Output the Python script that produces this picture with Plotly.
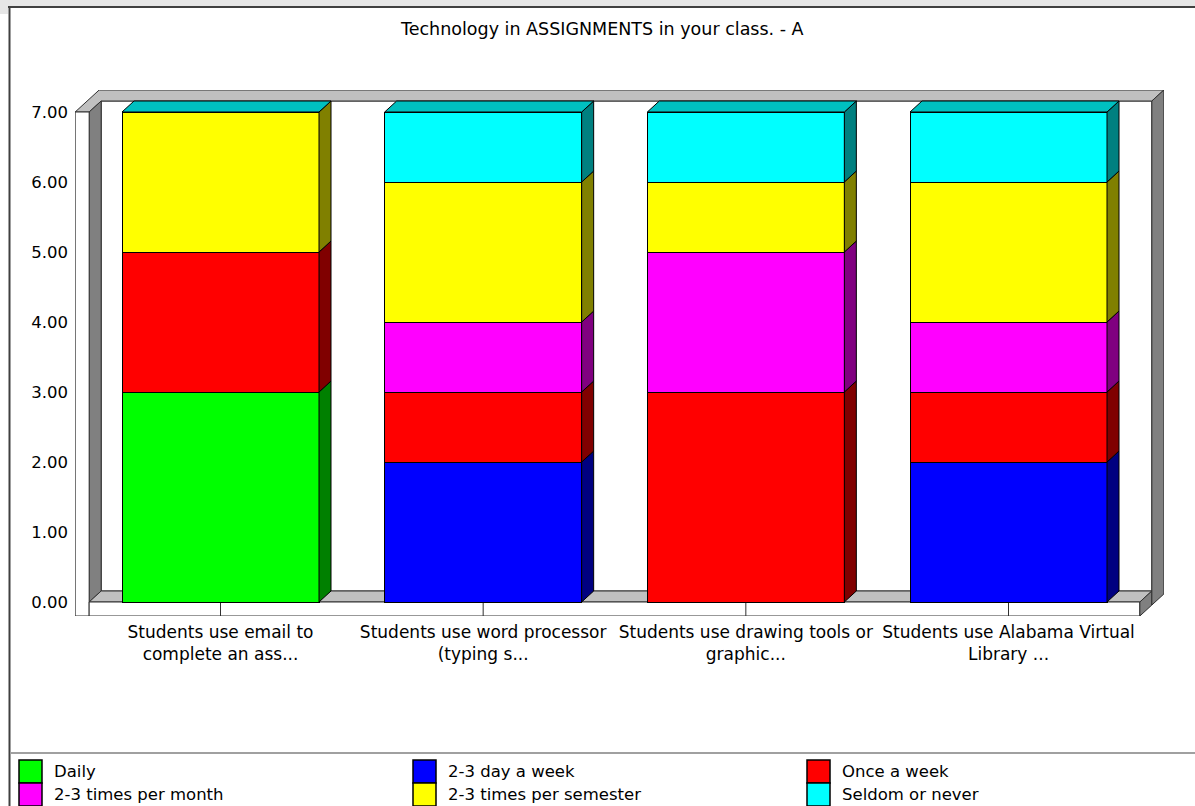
import plotly.graph_objects as go

# ---------------- data ----------------
categories = [
    "Students use email to<br>complete an ass...",
    "Students use word processor<br>(typing s...",
    "Students use drawing tools or<br>graphic...",
    "Students use Alabama Virtual<br>Library ...",
]
series_names = ["Daily", "2-3 day a week", "Once a week",
                "2-3 times per month", "2-3 times per semester", "Seldom or never"]
daily = [3, 0, 0, 0]
day_week = [0, 2, 0, 2]
once_week = [2, 1, 3, 1]
per_month = [0, 1, 2, 1]
per_semester = [2, 2, 1, 2]
seldom = [0, 1, 1, 1]
series_values = [daily, day_week, once_week, per_month, per_semester, seldom]
y_tick_values = [0, 1, 2, 3, 4, 5, 6, 7]
chart_title = "Technology in ASSIGNMENTS in your class. - A"

# ---------------- style ----------------
front_colors = ["#00FF00", "#0000FF", "#FF0000", "#FF00FF", "#FFFF00", "#00FFFF"]
side_colors = ["#008000", "#000080", "#800000", "#800080", "#808000", "#008080"]
top_color = "#00C0C0"
FONT = "DejaVu Sans"
FS = 16.5

W, H = 1195, 806
L, R, T, B = 75, 31, 90, 190
plot_w = W - L - R
plot_h = H - T - B
PXU_X = 262.67
PXU_Y = 70.0
XMIN = (L - 220.5) / PXU_X
XMAX = XMIN + plot_w / PXU_X
YMIN = -0.2
YMAX = YMIN + plot_h / PXU_Y
DX = 12 / PXU_X
DY = 11 / PXU_Y
BAR_W = 0.75
EDGE = "#303030"
LIGHT = "#C0C0C0"
DARK = "#808080"


def px(xp):
    return (xp - L) / plot_w


def py(yp):
    return (H - B - yp) / plot_h


fig = go.Figure()

x_idx = list(range(len(categories)))

# front faces of stacked bars
for name, vals, col in zip(series_names, series_values, front_colors):
    fig.add_trace(go.Bar(
        x=x_idx, y=[v if v else None for v in vals], name=name,
        marker=dict(color=col, line=dict(color="black", width=1)),
        width=BAR_W, showlegend=False, hoverinfo="skip"))

# 3D side faces
base = [0.0] * len(categories)
for name, vals, scol in zip(series_names, series_values, side_colors):
    xs, ys = [], []
    for i, v in enumerate(vals):
        y0 = base[i]
        y1 = y0 + v
        if v:
            x1 = i + BAR_W / 2
            xs += [x1, x1 + DX, x1 + DX, x1, x1, None]
            ys += [y0, y0 + DY, y1 + DY, y1, y0, None]
        base[i] = y1
    if xs:
        fig.add_trace(go.Scatter(
            x=xs, y=ys, mode="lines", fill="toself", fillcolor=scol,
            line=dict(color="black", width=1), showlegend=False,
            hoverinfo="skip"))

# top faces
xs, ys = [], []
for i, tot in enumerate(base):
    x0 = i - BAR_W / 2
    x1 = i + BAR_W / 2
    xs += [x0, x1, x1 + DX, x0 + DX, x0, None]
    ys += [tot, tot, tot + DY, tot + DY, tot, None]
fig.add_trace(go.Scatter(x=xs, y=ys, mode="lines", fill="toself",
                         fillcolor=top_color, line=dict(color="black", width=1),
                         showlegend=False, hoverinfo="skip"))

# ---------------- 3D walls (decoration) ----------------
xl = -0.5
xr = len(categories) - 0.5
ymax = max(y_tick_values)
wall_front = 14 / PXU_X
shapes = []


def poly(pts, fill, layer="below"):
    d = "M " + " L ".join(f"{a},{b}" for a, b in pts) + " Z"
    shapes.append(dict(type="path", path=d, xref="x", yref="y",
                       fillcolor=fill, line=dict(color=EDGE, width=1), layer=layer))


# back wall interior
poly([(xl + DX, DY), (xr + DX, DY), (xr + DX, ymax + DY), (xl + DX, ymax + DY)], "white")
# top slab
poly([(xl - wall_front, ymax), (xl - wall_front + 2 * DX, ymax + 2 * DY),
      (xr + 2 * DX, ymax + 2 * DY), (xr + DX, ymax + DY), (xl + DX, ymax + DY),
      (xl, ymax)], LIGHT)
# left wall side
poly([(xl, 0), (xl + DX, DY), (xl + DX, ymax + DY), (xl, ymax)], DARK)
# left wall front
poly([(xl - wall_front, YMIN), (xl, YMIN), (xl, ymax), (xl - wall_front, ymax)], "white")
# floor top
poly([(xl, 0), (xl + DX, DY), (xr + DX, DY), (xr, 0)], LIGHT)
# floor front
poly([(xl, YMIN), (xr, YMIN), (xr, 0), (xl, 0)], "white")
# floor right end
poly([(xr, YMIN), (xr + DX, YMIN + DY), (xr + DX, DY), (xr, 0)], DARK)
# right wall
poly([(xr + DX, YMIN + DY), (xr + 2 * DX, YMIN + 2 * DY),
      (xr + 2 * DX, ymax + 2 * DY), (xr + DX, ymax + DY)], DARK)
# category ticks on floor front
for i in x_idx:
    shapes.append(dict(type="line", xref="x", yref="y", x0=i, x1=i, y0=YMIN, y1=0,
                       line=dict(color=EDGE, width=1), layer="below"))

# ---------------- frame (paper) ----------------
shapes.append(dict(type="rect", xref="paper", yref="paper", x0=px(0), x1=px(W),
                   y0=py(0), y1=py(6), fillcolor="#E6E6E6", line=dict(width=0),
                   layer="below"))
shapes.append(dict(type="rect", xref="paper", yref="paper", x0=px(0), x1=px(8),
                   y0=py(0), y1=py(14), fillcolor="#E6E6E6", line=dict(width=0),
                   layer="below"))
shapes.append(dict(type="line", xref="paper", yref="paper", x0=px(8), x1=px(W),
                   y0=py(7), y1=py(7), line=dict(color="#404040", width=2)))
shapes.append(dict(type="line", xref="paper", yref="paper", x0=px(9.5), x1=px(9.5),
                   y0=py(6), y1=py(H), line=dict(color="#404040", width=2)))
shapes.append(dict(type="line", xref="paper", yref="paper", x0=px(10), x1=px(W),
                   y0=py(753), y1=py(753), line=dict(color="#A0A0A0", width=2)))

# ---------------- legend (manual, from series lists) ----------------
annotations = []
for k, (name, col) in enumerate(zip(series_names, front_colors)):
    c, r = k % 3, k // 3
    sx = 19 + c * 394
    sy = 760 + r * 23
    shapes.append(dict(type="rect", xref="paper", yref="paper",
                       x0=px(sx), x1=px(sx + 23), y0=py(sy), y1=py(sy + 23),
                       fillcolor=col, line=dict(color="black", width=1.5)))
    annotations.append(dict(xref="paper", yref="paper", x=px(sx + 33), y=py(sy + 11.5),
                            text=name, showarrow=False, xanchor="left", yanchor="middle",
                            font=dict(family=FONT, size=FS, color="black")))

annotations.append(dict(xref="paper", yref="paper", x=px(602), y=py(29), text=chart_title,
                        showarrow=False, xanchor="center", yanchor="middle",
                        font=dict(family=FONT, size=17.5, color="black")))

fig.update_layout(
    width=W, height=H, autosize=False,
    margin=dict(l=L, r=R, t=T, b=B, pad=0),
    barmode="stack", bargap=0.25,
    paper_bgcolor="white", plot_bgcolor="white",
    font=dict(family=FONT, size=FS, color="black"),
    shapes=shapes, annotations=annotations,
    showlegend=False,
    xaxis=dict(range=[XMIN, XMAX], tickvals=x_idx, ticktext=categories,
               tickangle=0, showgrid=False, zeroline=False, showline=False,
               ticks="", fixedrange=True, ticklabelstandoff=4,
               tickfont=dict(family=FONT, size=17, color="black")),
    yaxis=dict(range=[YMIN, YMAX], tickvals=y_tick_values, tickformat=".2f",
               showgrid=False, zeroline=False, showline=False, ticks="",
               fixedrange=True, ticklabelstandoff=6),
)

fig.write_html("out.html", config={"displayModeBar": False},
               post_script="document.body.style.margin='0px';document.body.style.overflow='hidden';")
